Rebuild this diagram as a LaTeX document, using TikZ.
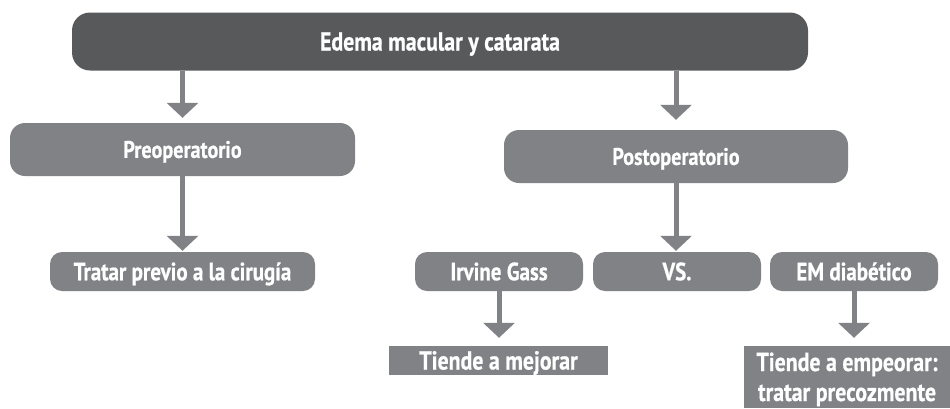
\documentclass[tikz,border=0pt]{standalone}
\usepackage{fontspec}
\setmainfont[FakeStretch=0.84, BoldFeatures={FakeBold=0.6}]{PT Sans}
\usetikzlibrary{arrows.meta}
\definecolor{darkbox}{HTML}{58595B}
\definecolor{midbox}{HTML}{808285}
\tikzset{
  box/.style={fill=midbox, text=white, inner sep=0pt, rounded corners=12pt,
    font=\bfseries\fontsize{25}{29}\selectfont, text height=17.5pt, text depth=0pt,
    minimum width=168pt, minimum height=39pt},
  flatbox/.style={box, rounded corners=0pt, font=\bfseries\fontsize{26}{30}\selectfont, text height=18pt},
  arr/.style={draw=midbox, line width=5pt, -{Triangle[width=31pt,length=15pt]}}
}
\begin{document}
\begin{tikzpicture}[x=1pt,y=-1pt]
\useasboundingbox (0,0) rectangle (950,408);
\node[box, fill=darkbox, rounded corners=18pt, minimum width=736pt, minimum height=58pt,
  font=\bfseries\fontsize{26}{30}\selectfont, text height=18pt] (top) at (440,41.5) {Edema macular y catarata};
\node[box, rounded corners=15pt, minimum width=345pt, minimum height=53pt,
  font=\bfseries\fontsize{24}{28}\selectfont, text height=16.8pt] (pre) at (182.5,149.5) {Preoperatorio};
\node[box, rounded corners=15pt, minimum width=344pt, minimum height=53pt,
  font=\bfseries\fontsize{24}{28}\selectfont, text height=16.8pt] (post) at (676,156.5) {Postoperatorio};
\node[box, minimum width=265pt] (trat) at (182.5,271.5) {Tratar previo a la cirugía};
\node[box] (irv) at (499,271.5) {Irvine Gass};
\node[box] (vs) at (677,271.5) {VS.};
\node[box] (em) at (854,271.5) {EM diabético};
\node[flatbox, minimum width=219pt, minimum height=29pt] (mej) at (498.5,360.5) {Tiende a mejorar};
\node[flatbox, minimum width=206pt, minimum height=62pt, align=center, text height=48pt, text depth=0pt] (emp) at (847,377) {Tiende a empeorar:\\tratar precozmente};
\draw[arr] (top.south -| pre.north) -- ([yshift=5pt]pre.north);
\draw[arr] (top.south -| post.north) -- ([yshift=10pt]post.north);
\draw[arr] (pre.south) -- ([yshift=1pt]trat.north);
\draw[arr] (post.south) -- ([yshift=1pt]post.south |- vs.north);
\draw[arr] (irv.south) -- ([yshift=8pt]irv.south |- mej.north);
\draw[arr] (em.south) -- ([yshift=8pt]em.south |- emp.north);
\end{tikzpicture}
\end{document}
